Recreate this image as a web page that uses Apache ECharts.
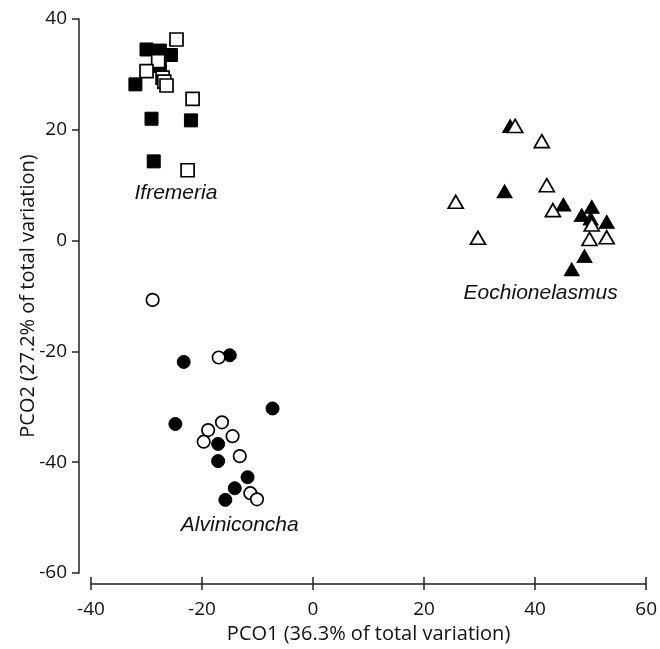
<!DOCTYPE html>
<html><head><meta charset="utf-8">
<script src="https://cdn.jsdelivr.net/npm/echarts@6/dist/echarts.min.js"></script>
<style>html,body{margin:0;padding:0;background:#fff}#c{width:660px;height:649px}</style>
</head><body><div id="c"></div>
<script>
const xTicks = [-40, -20, 0, 20, 40, 60];
const yTicks = [-60, -40, -20, 0, 20, 40];
const xTitle = 'PCO1 (36.3% of total variation)';
const yTitle = 'PCO2 (27.2% of total variation)';

const ifremeriaFilled = [[-30.0,34.5],[-27.6,34.3],[-25.6,33.5],[-27.6,31.5],[-32.0,28.2],[-29.1,22.0],[-22.0,21.7],[-28.7,14.3]];
const ifremeriaOpen = [[-24.6,36.3],[-27.9,32.4],[-30.0,30.6],[-27.1,29.4],[-26.8,28.7],[-26.4,28.0],[-21.7,25.6],[-22.6,12.7]];
const eochFilled = [[35.5,20.7],[34.5,8.9],[45.1,6.5],[50.2,6.1],[48.4,4.6],[50.0,4.0],[52.9,3.4],[48.9,-2.8],[46.6,-5.2]];
const eochOpen = [[36.4,20.7],[41.2,17.95],[42.1,10.0],[25.7,7.0],[43.2,5.5],[50.2,2.9],[29.7,0.5],[49.8,0.3],[52.9,0.6]];
const alvFilled = [[-23.3,-21.9],[-15.0,-20.7],[-7.3,-30.3],[-24.8,-33.1],[-17.1,-36.7],[-17.1,-39.8],[-11.8,-42.7],[-14.1,-44.7],[-15.8,-46.8]];
const alvOpen = [[-28.9,-10.7],[-17.0,-21.1],[-16.4,-32.8],[-18.9,-34.2],[-14.5,-35.3],[-19.7,-36.3],[-13.2,-38.9],[-11.3,-45.6],[-10.1,-46.7]];
const groupNames = ['Ifremeria', 'Eochionelasmus', 'Alviniconcha'];
const groupLabelAt = [[-24.7, 8.6], [41.0, -9.4], [-13.2, -51.4]];

const chart = echarts.init(document.getElementById('c'));
const FONT = 'Open Sans';
const LFONT = 'Liberation Sans';
const filledStyle = {color: '#000', borderColor: '#000', borderWidth: 1, opacity: 1};
const openStyle = {color: '#fff', borderColor: '#000', borderWidth: 1.7, opacity: 1};

function series(data, symbol, size, style, labelIdx) {
  const s = {type: 'scatter', data, symbol, symbolSize: size, itemStyle: style,
    z: style.color === '#fff' ? 3 : 2, animation: false, emphasis: {disabled: true}};
  if (labelIdx !== undefined) {
    s.markPoint = {
      symbol: 'circle', symbolSize: 1, silent: true, animation: false,
      itemStyle: {color: 'rgba(0,0,0,0)'},
      label: {show: true, formatter: groupNames[labelIdx], fontStyle: 'italic', fontFamily: LFONT,
        fontSize: 21, color: '#111', position: 'inside'},
      data: [{coord: groupLabelAt[labelIdx]}]
    };
  }
  return s;
}

const axisLine = {show: true, onZero: false, lineStyle: {color: '#222', width: 1.5}};
chart.setOption({
  animation: false,
  grid: {left: 91, right: 12, top: 19, bottom: 69, containLabel: false},
  xAxis: [{
    type: 'value', min: -40, max: 60, interval: 20, offset: 11,
    name: xTitle, nameLocation: 'middle', nameGap: 40, nameMoveOverlap: false,
    nameTextStyle: {fontFamily: FONT, fontSize: 20, color: '#111'},
    axisLine,
    axisTick: {show: true, inside: true, length: 7, lineStyle: {color: '#222', width: 1.5}},
    axisLabel: {fontFamily: FONT, fontSize: 19, color: '#111', margin: 16},
    splitLine: {show: false}
  }, {
    type: 'value', position: 'bottom', min: -40, max: 60, interval: 20, offset: 11,
    axisLine: {show: false, onZero: false},
    axisTick: {show: true, inside: false, length: 6, lineStyle: {color: '#222', width: 1.5}},
    axisLabel: {show: false}, splitLine: {show: false}
  }],
  yAxis: {
    type: 'value', min: -60, max: 40, interval: 20, offset: 12,
    name: yTitle, nameLocation: 'middle', nameGap: 41, nameRotate: 90, nameMoveOverlap: false,
    nameTextStyle: {fontFamily: FONT, fontSize: 20, color: '#111'},
    axisLine,
    axisTick: {show: true, inside: false, length: 7, lineStyle: {color: '#222', width: 1.5}},
    axisLabel: {fontFamily: FONT, fontSize: 19, color: '#111', margin: 12},
    splitLine: {show: false}
  },
  series: [
    series(ifremeriaFilled, 'rect', 13, filledStyle, 0),
    series(ifremeriaOpen, 'rect', 13, openStyle),
    series(eochFilled, 'triangle', [15, 13], filledStyle, 1),
    series(eochOpen, 'triangle', [15, 13], openStyle),
    series(alvFilled, 'circle', 13, filledStyle, 2),
    series(alvOpen, 'circle', 12.5, openStyle)
  ]
});
</script>
</body></html>
